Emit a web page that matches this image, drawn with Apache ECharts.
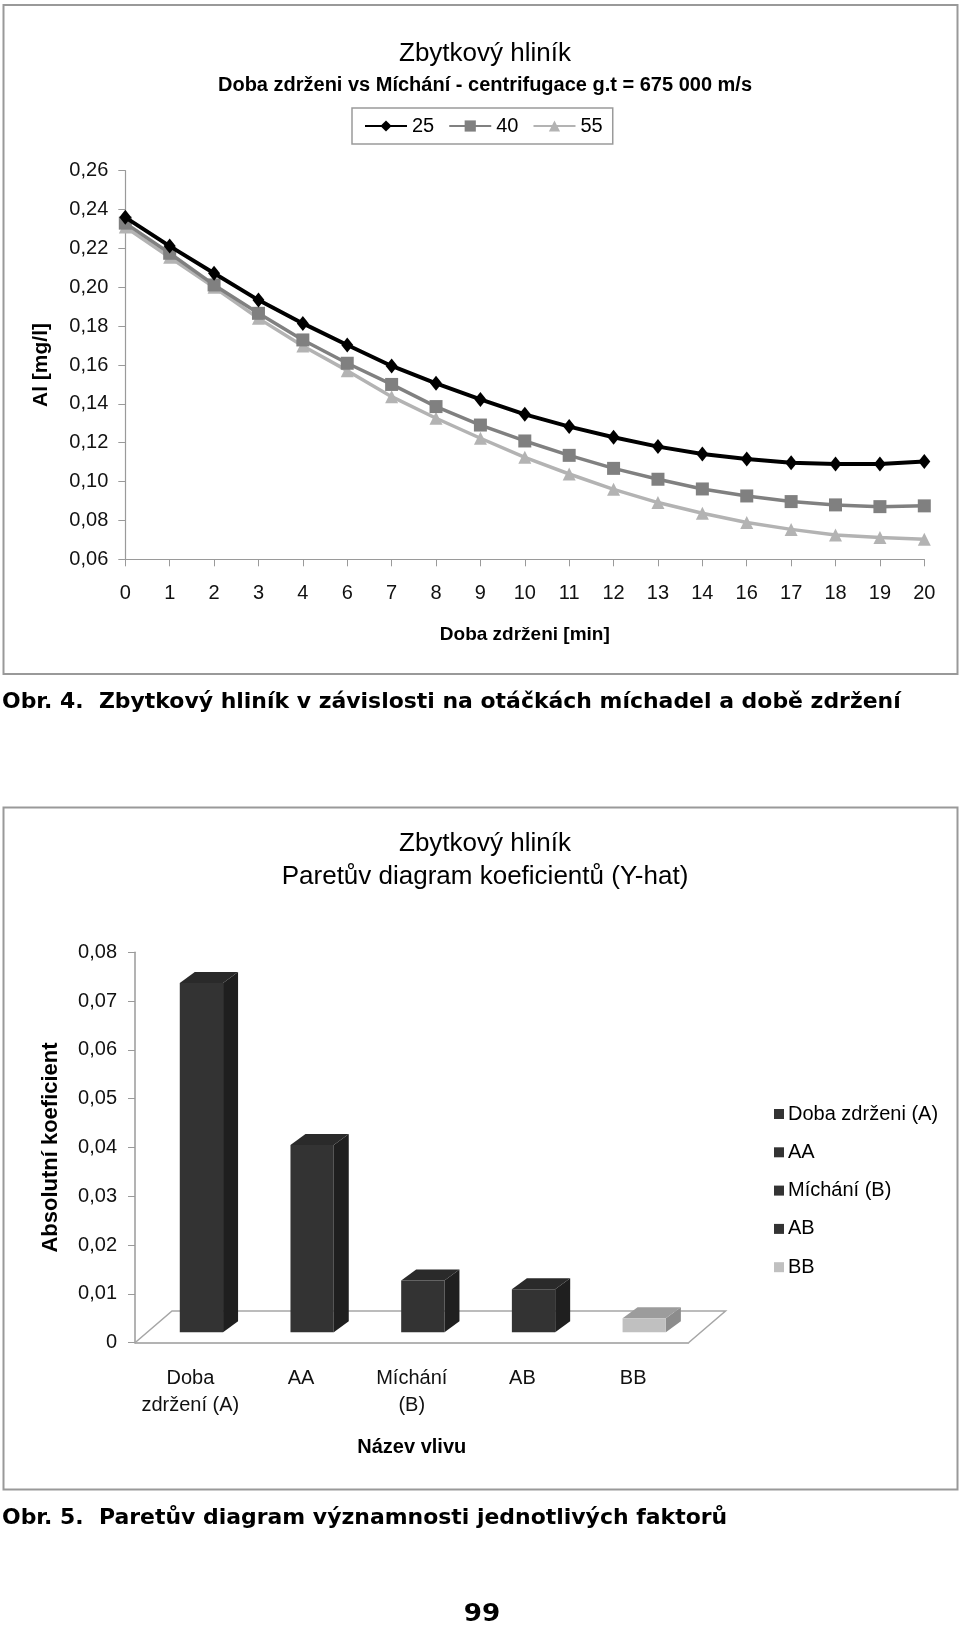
<!DOCTYPE html>
<html><head><meta charset="utf-8">
<script src="https://cdn.jsdelivr.net/npm/echarts@6/dist/echarts.min.js"></script>
<style>html,body{margin:0;padding:0;background:#fff}#c{width:960px;height:1625px}</style>
</head><body><div id="c"></div>
<script>
// ---- Chart 1 data (Obr. 4) ----
const timeCategories = ['0','1','2','3','4','6','7','8','9','10','11','12','13','14','16','17','18','19','20'];
const lineNames = ['25','40','55'];
const series25 = [0.236,0.2212,0.2072,0.1934,0.1814,0.1703,0.1595,0.1506,0.1423,0.1346,0.1283,0.1228,0.118,0.1142,0.1116,0.1097,0.1091,0.1091,0.1103];
const series40 = [0.233,0.2175,0.2012,0.1866,0.1729,0.1609,0.150,0.1386,0.1291,0.1209,0.1135,0.1068,0.1012,0.0962,0.0926,0.0897,0.088,0.0871,0.0875];
const series55 = [0.231,0.2154,0.200,0.184,0.1698,0.1571,0.1437,0.1326,0.1223,0.1125,0.1039,0.096,0.0892,0.0837,0.0789,0.0754,0.0725,0.0712,0.0703];

// ---- Chart 2 data (Obr. 5) ----
const effectCategories = ['Doba\nzdržení (A)','AA','Míchání\n(B)','AB','BB'];
const effectNames = ['Doba zdrženi (A)','AA','Míchání (B)','AB','BB'];
const effectValues = [0.0716,0.0384,0.0106,0.0088,0.0029];

const FONT = '"Liberation Sans", Arial, sans-serif';
const CAPFONT = '"DejaVu Sans", Verdana, sans-serif';

const barColors = [
  {front:'#333333', side:'#1f1f1f', top:'#2a2a2a'},
  {front:'#333333', side:'#1f1f1f', top:'#2a2a2a'},
  {front:'#333333', side:'#1f1f1f', top:'#2a2a2a'},
  {front:'#333333', side:'#1f1f1f', top:'#2a2a2a'},
  {front:'#c0c0c0', side:'#8c8c8c', top:'#9c9c9c'}
];

function commaFmt(v){ return v === 0 ? '0' : v.toFixed(2).replace('.', ','); }

function bar3D(colors){
  return function(params, api){
    const cat = api.value(0), val = api.value(1);
    const base = api.coord([cat, 0]);
    const top = api.coord([cat, val]);
    const band = api.size([1, 0])[0];
    const w = band * 0.391;
    const ox = band * 0.1, oy = -10.4;
    const dx = 15, dy = -11;
    const x0 = base[0] - w/2 + ox, x1 = x0 + w;
    const yb = base[1] + oy, yt = top[1] + oy;
    return {type:'group', children:[
      {type:'polygon', shape:{points:[[x1,yt],[x1+dx,yt+dy],[x1+dx,yb+dy],[x1,yb]]}, style:{fill:colors.side}},
      {type:'polygon', shape:{points:[[x0,yt],[x0+dx,yt+dy],[x1+dx,yt+dy],[x1,yt]]}, style:{fill:colors.top}},
      {type:'rect', shape:{x:x0, y:yt, width:w, height:yb-yt}, style:{fill:colors.front}}
    ]};
  };
}

function floorItem(params, api){
  const cs = params.coordSys;
  const yb = cs.y + cs.height;
  const dx = 37, dy = -31.7;
  return {type:'polyline', shape:{points:[[cs.x,yb],[cs.x+dx,yb+dy],[cs.x+cs.width+dx,yb+dy],[cs.x+cs.width,yb]]},
    style:{stroke:'#a6a6a6', lineWidth:1.5, fill:null}};
}

const chart = echarts.init(document.getElementById('c'), null, {renderer:'canvas'});

const lineStyles = [
  {color:'#000000', symbol:'diamond', size:[12,15], width:4},
  {color:'#808080', symbol:'rect', size:13, width:3.5},
  {color:'#b3b3b3', symbol:'triangle', size:13, width:3.5}
];
const lineData = [series25, series40, series55];

const option = {
  animation:false,
  backgroundColor:'#ffffff',
  title:[
    {text:'Zbytkový hliník', left:480, top:36, textAlign:'center', textStyle:{fontFamily:FONT, fontSize:26, fontWeight:'normal', color:'#000', lineHeight:26}},
    {text:'Doba zdrženi vs Míchání - centrifugace g.t = 675 000 m/s', left:480, top:70, textAlign:'center', textStyle:{fontFamily:FONT, fontSize:20, fontWeight:'bold', color:'#000', lineHeight:20}},
    {text:'Zbytkový hliník', left:480, top:826, textAlign:'center', textStyle:{fontFamily:FONT, fontSize:26, fontWeight:'normal', color:'#000', lineHeight:26}},
    {text:'Paretův diagram koeficientů (Y-hat)', left:480, top:859, textAlign:'center', textStyle:{fontFamily:FONT, fontSize:26, fontWeight:'normal', color:'#000', lineHeight:26}}
  ],
  legend:[
    {data:lineNames, left:352, top:108, orient:'horizontal', padding:[8,10,8,12], itemGap:14, itemWidth:42, itemHeight:14,
     borderColor:'#9a9a9a', borderWidth:1.5, textStyle:{fontFamily:FONT, fontSize:20, color:'#000'}},
    {data:effectNames, left:769, top:1099, orient:'vertical', itemGap:18.3, itemWidth:10, itemHeight:10, icon:'rect',
     textStyle:{fontFamily:FONT, fontSize:20, color:'#000', padding:[0,0,0,-1]}}
  ],
  grid:[
    {left:125.3, top:170.7, width:799, height:388.6, containLabel:false},
    {left:135, top:952.3, width:553.5, height:390.4, containLabel:false}
  ],
  xAxis:[
    {type:'category', gridIndex:0, data:timeCategories, boundaryGap:false,
     axisLine:{lineStyle:{color:'#9a9a9a', width:1.2}}, axisTick:{length:7, alignWithLabel:true, interval:0, lineStyle:{color:'#9a9a9a'}},
     axisLabel:{interval:0, margin:24, fontFamily:FONT, fontSize:20, color:'#111', lineHeight:20},
     name:'Doba zdrženi [min]', nameLocation:'middle', nameGap:75,
     nameTextStyle:{fontFamily:FONT, fontSize:19, fontWeight:'bold', color:'#000', verticalAlign:'middle'}},
    {type:'category', gridIndex:1, data:effectCategories, boundaryGap:true,
     axisLine:{lineStyle:{color:'#9a9a9a', width:1.5}}, axisTick:{length:7, interval:0, lineStyle:{color:'#9a9a9a'}},
     axisLabel:{interval:0, margin:22, fontFamily:FONT, fontSize:20, color:'#111', lineHeight:27},
     name:'Název vlivu', nameLocation:'middle', nameGap:105,
     nameTextStyle:{fontFamily:FONT, fontSize:20, fontWeight:'bold', color:'#000', verticalAlign:'middle'}}
  ],
  yAxis:[
    {type:'value', gridIndex:0, min:0.06, max:0.26, interval:0.02,
     axisLine:{show:true, lineStyle:{color:'#9a9a9a', width:1.2}}, axisTick:{show:true, length:7, lineStyle:{color:'#9a9a9a'}},
     splitLine:{show:false},
     axisLabel:{margin:17, fontFamily:FONT, fontSize:20, color:'#111', formatter:commaFmt},
     name:'Al [mg/l]', nameLocation:'middle', nameGap:84, nameRotate:90,
     nameTextStyle:{fontFamily:FONT, fontSize:21, fontWeight:'bold', color:'#000', verticalAlign:'middle'}},
    {type:'value', gridIndex:1, min:0, max:0.08, interval:0.01,
     axisLine:{show:true, lineStyle:{color:'#9a9a9a', width:1.5}}, axisTick:{show:true, length:7, lineStyle:{color:'#9a9a9a'}},
     splitLine:{show:false},
     axisLabel:{margin:18, fontFamily:FONT, fontSize:20, color:'#111', formatter:commaFmt},
     name:'Absolutní koeficient', nameLocation:'middle', nameGap:84, nameRotate:90,
     nameTextStyle:{fontFamily:FONT, fontSize:22, fontWeight:'bold', color:'#000', verticalAlign:'middle'}}
  ],
  series:[],
  graphic:[
    {type:'rect', shape:{x:3.5, y:5, width:954, height:669}, style:{fill:null, stroke:'#999', lineWidth:2}, z:-1},
    {type:'rect', shape:{x:3.5, y:807.5, width:954, height:682}, style:{fill:null, stroke:'#999', lineWidth:2}, z:-1},
    {type:'text', x:2, y:703, scaleX:1.045, style:{text:'Obr. 4.  Zbytkový hliník v závislosti na otáčkách míchadel a době zdržení',
      font:'bold 21px ' + CAPFONT, fill:'#000', textVerticalAlign:'middle', textAlign:'left'}},
    {type:'text', x:2, y:1519, scaleX:1.045, style:{text:'Obr. 5.  Paretův diagram významnosti jednotlivých faktorů',
      font:'bold 21px ' + CAPFONT, fill:'#000', textVerticalAlign:'middle', textAlign:'left'}},
    {type:'text', x:482, y:1614, scaleX:1.05, style:{text:'99',
      font:'bold 25px ' + CAPFONT, fill:'#000', textVerticalAlign:'middle', textAlign:'center'}}
  ]
};

lineNames.forEach(function(n, i){
  const s = lineStyles[i];
  option.series.push({
    name:n, type:'line', xAxisIndex:0, yAxisIndex:0, data:lineData[i],
    symbol:s.symbol, symbolSize:s.size, showAllSymbol:true,
    lineStyle:{color:s.color, width:s.width}, itemStyle:{color:s.color}, z:3-i+2
  });
});

option.series.push({
  name:'floor', type:'custom', xAxisIndex:1, yAxisIndex:1, data:[[0,0]], renderItem:floorItem, silent:true, z:1
});

effectNames.forEach(function(n, i){
  option.series.push({
    name:n, type:'custom', xAxisIndex:1, yAxisIndex:1, data:[[i, effectValues[i]]],
    renderItem:bar3D(barColors[i]), itemStyle:{color:barColors[i].front}, z:2
  });
});

chart.setOption(option);
</script>
</body></html>
